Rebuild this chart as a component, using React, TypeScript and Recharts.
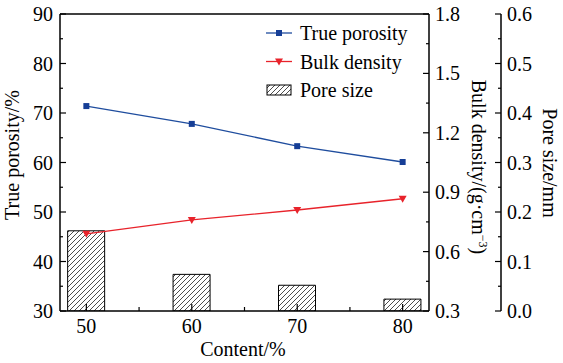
import React from 'react';
import { ComposedChart, Line, Bar, XAxis, YAxis, ReferenceLine } from 'recharts';

const contents = [50, 60, 70, 80];
const truePorosity = [71.4, 67.8, 63.3, 60.1];
const bulkDensity = [0.69, 0.76, 0.81, 0.867];
const poreSize = [0.162, 0.074, 0.052, 0.024];

const xTicks = [50, 55, 60, 65, 70, 75, 80];
const xMajor = [50, 60, 70, 80];
const porosityTicks = [30, 35, 40, 45, 50, 55, 60, 65, 70, 75, 80, 85, 90];
const porosityMajor = [30, 40, 50, 60, 70, 80, 90];
const densityTicks = [0.3, 0.45, 0.6, 0.75, 0.9, 1.05, 1.2, 1.35, 1.5, 1.65, 1.8];
const densityMajor = [0.3, 0.6, 0.9, 1.2, 1.5, 1.8];
const poreTicks = [0, 0.05, 0.1, 0.15, 0.2, 0.25, 0.3, 0.35, 0.4, 0.45, 0.5, 0.55, 0.6];
const poreMajor = [0, 0.1, 0.2, 0.3, 0.4, 0.5, 0.6];

const data = contents.map((c, i) => ({
  content: c,
  porosity: truePorosity[i],
  density: bulkDensity[i],
  pore: poreSize[i],
}));

const FONT = "'Liberation Serif', 'Times New Roman', Times, serif";
const FS = 20;
const BLUE = '#1f4d9e';
const RED = '#e8232b';
const TS: React.CSSProperties = { fontFamily: FONT, fontSize: FS, fill: '#000' };

const isMajor = (v: number, list: number[]) => list.some((m) => Math.abs(m - v) < 1e-9);

const LeftTick = (p: any) => {
  const { x, y, payload } = p;
  const major = isMajor(payload.value, porosityMajor);
  const len = major ? 6 : 3;
  return (
    <g>
      <line x1={x} x2={x + len} y1={y} y2={y} stroke="#000" strokeWidth={1.2} />
      {major && (
        <text x={x - 7} y={y} dy="0.35em" textAnchor="end" style={TS}>
          {String(payload.value)}
        </text>
      )}
    </g>
  );
};

const makeRightTick = (majors: number[]) => (p: any) => {
  const { x, y, payload } = p;
  const major = isMajor(payload.value, majors);
  const len = major ? 6 : 3;
  return (
    <g>
      <line x1={x} x2={x - len} y1={y} y2={y} stroke="#000" strokeWidth={1.2} />
      {major && (
        <text x={x + 6} y={y} dy="0.35em" textAnchor="start" style={TS}>
          {Number(payload.value).toFixed(1)}
        </text>
      )}
    </g>
  );
};

const DensityTick = makeRightTick(densityMajor);
const PoreTick = makeRightTick(poreMajor);

const BottomTick = (p: any) => {
  const { x, y, payload } = p;
  const major = isMajor(payload.value, xMajor);
  const len = major ? 7 : 4;
  return (
    <g>
      <line x1={x} x2={x} y1={y} y2={y - len} stroke="#000" strokeWidth={1.2} />
      {major && (
        <text x={x} y={y + 22} textAnchor="middle" style={TS}>
          {String(payload.value)}
        </text>
      )}
    </g>
  );
};

const SquareDot = (p: any) => {
  const { cx, cy } = p;
  if (cx == null || cy == null) return <g />;
  return <rect x={cx - 3} y={cy - 3} width={6} height={6} fill="#163e96" />;
};

const TriDot = (p: any) => {
  const { cx, cy } = p;
  if (cx == null || cy == null) return <g />;
  return <path d={`M${cx - 4},${cy - 3} L${cx + 4},${cy - 3} L${cx},${cy + 4} Z`} fill={RED} />;
};

const legendItems = ['True porosity', 'Bulk density', 'Pore size'];

export default function App() {
  return (
    <div
      style={{
        position: 'absolute',
        left: 0,
        top: 0,
        width: 563,
        height: 363,
        background: '#fff',
        fontFamily: FONT,
      }}
    >
      <ComposedChart
        width={563}
        height={363}
        data={data}
        margin={{ top: 14, right: 0, bottom: 0, left: 0 }}
        style={{ fontFamily: FONT }}
      >
        <defs>
          <pattern id="hatch" patternUnits="userSpaceOnUse" width="5" height="5">
            <path d="M-1,1 l2,-2 M0,5 l5,-5 M4,6 l2,-2" stroke="#000" strokeWidth={0.7} />
          </pattern>
        </defs>
        <XAxis
          dataKey="content"
          type="number"
          domain={[47.5, 82.5]}
          ticks={xTicks}
          interval={0}
          height={52}
          tickSize={0}
          tickMargin={0}
          tickLine={false}
          axisLine={{ stroke: '#000', strokeWidth: 1.5 }}
          tick={BottomTick}
          allowDataOverflow
        />
        <YAxis
          yAxisId="left"
          orientation="left"
          width={60}
          domain={[30, 90]}
          ticks={porosityTicks}
          interval={0}
          tickSize={0}
          tickMargin={0}
          tickLine={false}
          axisLine={{ stroke: '#000', strokeWidth: 1.5 }}
          tick={LeftTick}
          allowDataOverflow
        />
        <YAxis
          yAxisId="density"
          orientation="right"
          width={72}
          domain={[0.3, 1.8]}
          ticks={densityTicks}
          interval={0}
          tickSize={0}
          tickMargin={0}
          tickLine={false}
          axisLine={{ stroke: '#000', strokeWidth: 1.5 }}
          tick={DensityTick}
          allowDataOverflow
        />
        <YAxis
          yAxisId="pore"
          orientation="right"
          width={62}
          domain={[0, 0.6]}
          ticks={poreTicks}
          interval={0}
          tickSize={0}
          tickMargin={0}
          tickLine={false}
          axisLine={{ stroke: '#000', strokeWidth: 1.5 }}
          tick={PoreTick}
          allowDataOverflow
        />
        <ReferenceLine yAxisId="left" y={90} stroke="#000" strokeWidth={1.5} />
        <Bar
          yAxisId="pore"
          dataKey="pore"
          name="Pore size"
          barSize={37}
          fill="url(#hatch)"
          stroke="#000"
          strokeWidth={1}
          isAnimationActive={false}
        />
        <Line
          yAxisId="left"
          dataKey="porosity"
          name="True porosity"
          stroke={BLUE}
          strokeWidth={1.3}
          dot={SquareDot}
          activeDot={false}
          isAnimationActive={false}
        />
        <Line
          yAxisId="density"
          dataKey="density"
          name="Bulk density"
          stroke={RED}
          strokeWidth={1.3}
          dot={TriDot}
          activeDot={false}
          isAnimationActive={false}
        />
        <text x={243} y={356} textAnchor="middle" style={TS}>
          Content/%
        </text>
        <text x={19} y={155} textAnchor="middle" transform="rotate(-90, 19, 155)" style={TS}>
          True porosity/%
        </text>
        <text x={472} y={167} textAnchor="middle" transform="rotate(90, 472, 167)" style={TS}>
          Bulk density/(g·cm
          <tspan dy={-7} style={{ fontSize: 12 }}>−3</tspan>
          <tspan dy={7}>)</tspan>
        </text>
        <text x={543} y={163} textAnchor="middle" transform="rotate(90, 543, 163)" style={TS}>
          Pore size/mm
        </text>
        <g>
          <line x1={266} x2={292} y1={33} y2={33} stroke={BLUE} strokeWidth={1.3} />
          <rect x={276} y={30} width={6} height={6} fill="#163e96" />
          <text x={300} y={33} dy="0.35em" style={TS}>
            {legendItems[0]}
          </text>
          <line x1={266} x2={292} y1={61.5} y2={61.5} stroke={RED} strokeWidth={1.3} />
          <path d="M275,58.5 L283,58.5 L279,65.5 Z" fill={RED} />
          <text x={300} y={61.5} dy="0.35em" style={TS}>
            {legendItems[1]}
          </text>
          <rect x={267} y={85} width={24} height={10} fill="url(#hatch)" stroke="#000" strokeWidth={1} />
          <text x={300} y={90} dy="0.35em" style={TS}>
            {legendItems[2]}
          </text>
        </g>
      </ComposedChart>
    </div>
  );
}
